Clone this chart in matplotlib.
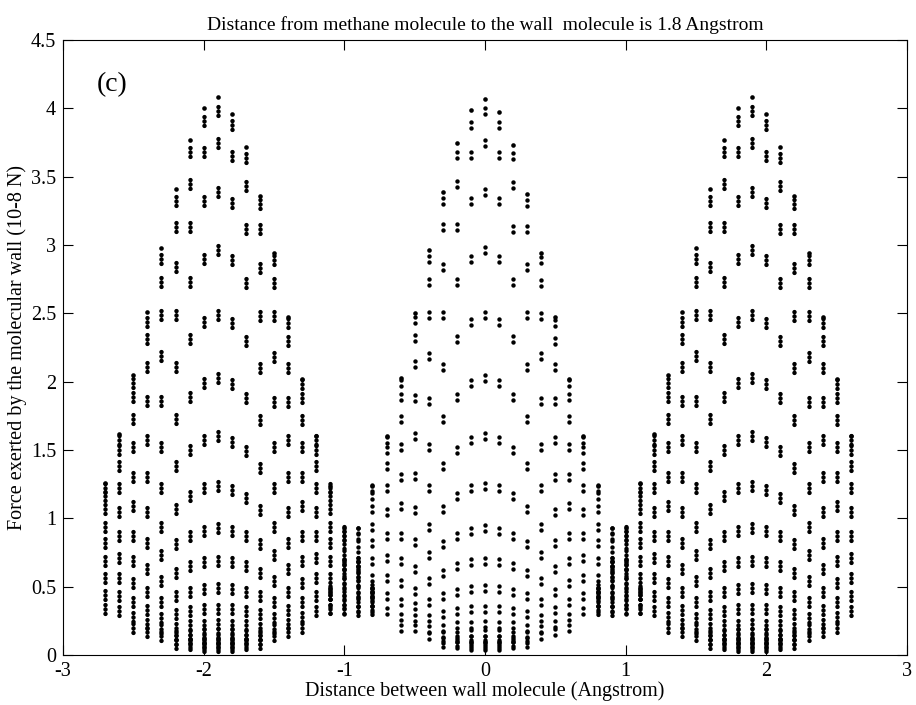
import numpy as np
import matplotlib
matplotlib.use("Agg")
import matplotlib.pyplot as plt
from matplotlib.path import Path

plt.rcParams['font.family'] = ['Liberation Serif', 'DejaVu Serif']
plt.rcParams['axes.unicode_minus'] = False

# ---- data: force (1e-8 N) at each sampled wall position, one list per column ----
# left lattice site (centred near -1.9)
left_x = [-2.7, -2.6, -2.5, -2.4, -2.3, -2.2, -2.1, -2.0, -1.9, -1.8,
          -1.7, -1.6, -1.5, -1.4, -1.3, -1.2, -1.1, -1.0, -0.9, -0.8]
left_force = [
    [1.26, 1.22, 1.16, 1.07, 0.94, 0.82, 0.69, 0.56, 0.44, 0.34],
    [1.62, 1.57, 1.50, 1.38, 1.22, 1.05, 0.87, 0.71, 0.56, 0.43, 0.32],
    [2.05, 1.99, 1.89, 1.73, 1.52, 1.30, 1.09, 0.87, 0.69, 0.53, 0.39, 0.28, 0.20],
    [2.51, 2.44, 2.31, 2.11, 1.86, 1.57, 1.30, 1.05, 0.82, 0.63, 0.46, 0.33, 0.23, 0.17],
    [2.98, 2.90, 2.73, 2.49, 2.19, 1.86, 1.52, 1.22, 0.94, 0.73, 0.54, 0.39, 0.27, 0.19, 0.14],
    [3.41, 3.32, 3.13, 2.84, 2.49, 2.11, 1.73, 1.38, 1.07, 0.81, 0.60, 0.43, 0.30, 0.20, 0.15, 0.11, 0.08],
    [3.77, 3.68, 3.45, 3.13, 2.73, 2.31, 1.89, 1.50, 1.16, 0.87, 0.65, 0.46, 0.32, 0.22, 0.15, 0.12, 0.09, 0.07],
    [4.00, 3.91, 3.68, 3.32, 2.90, 2.44, 1.99, 1.57, 1.22, 0.91, 0.68, 0.48, 0.34, 0.22, 0.16, 0.12, 0.09, 0.07, 0.055],
    [4.08, 3.98, 3.75, 3.39, 2.96, 2.49, 2.03, 1.60, 1.24, 0.93, 0.69, 0.49, 0.34, 0.23, 0.16, 0.12, 0.09, 0.07, 0.055],
    [3.96, 3.88, 3.65, 3.31, 2.89, 2.43, 1.98, 1.56, 1.21, 0.91, 0.68, 0.48, 0.34, 0.22, 0.16, 0.12, 0.09, 0.07, 0.055],
    [3.72, 3.64, 3.43, 3.12, 2.72, 2.30, 1.88, 1.49, 1.15, 0.87, 0.65, 0.46, 0.32, 0.22, 0.15, 0.12, 0.09, 0.07],
    [3.36, 3.30, 3.12, 2.83, 2.48, 2.10, 1.72, 1.37, 1.06, 0.81, 0.60, 0.43, 0.30, 0.20, 0.15, 0.11, 0.08],
    [2.94, 2.89, 2.72, 2.48, 2.18, 1.85, 1.52, 1.22, 0.94, 0.73, 0.54, 0.39, 0.27, 0.19, 0.14],
    [2.47, 2.43, 2.30, 2.10, 1.85, 1.57, 1.30, 1.05, 0.82, 0.63, 0.46, 0.33, 0.23, 0.17],
    [2.02, 1.98, 1.88, 1.72, 1.52, 1.30, 1.09, 0.87, 0.69, 0.53, 0.39, 0.28, 0.20],
    [1.60, 1.57, 1.50, 1.38, 1.22, 1.05, 0.87, 0.71, 0.56, 0.43, 0.32],
    [1.24, 1.22, 1.16, 1.07, 0.94, 0.82, 0.69, 0.56, 0.44, 0.34],
    [0.93, 0.91, 0.87, 0.81, 0.73, 0.63, 0.53, 0.43, 0.34],
    [0.69, 0.68, 0.65, 0.60, 0.54, 0.46, 0.39, 0.32],
    [0.49, 0.48, 0.46, 0.43, 0.39, 0.33],
]

# middle lattice site (centred at 0)
mid_x = [-1.1, -1.0, -0.9, -0.8, -0.7, -0.6, -0.5, -0.4, -0.3, -0.2, -0.1, 0.0,
         0.1, 0.2, 0.3, 0.4, 0.5, 0.6, 0.7, 0.8, 0.9, 1.0, 1.1]
mid_force = [
    [0.49, 0.48, 0.46, 0.43, 0.39, 0.33],
    [0.69, 0.68, 0.65, 0.60, 0.54, 0.46, 0.39, 0.32],
    [0.93, 0.91, 0.87, 0.81, 0.73, 0.63, 0.53, 0.43, 0.34],
    [1.24, 1.22, 1.16, 1.07, 0.94, 0.82, 0.69, 0.56, 0.44, 0.34],
    [1.60, 1.57, 1.50, 1.38, 1.22, 1.05, 0.87, 0.71, 0.56, 0.43, 0.32],
    [2.03, 1.99, 1.89, 1.73, 1.52, 1.30, 1.09, 0.87, 0.69, 0.53, 0.39, 0.28, 0.20],
    [2.50, 2.45, 2.32, 2.13, 1.88, 1.60, 1.31, 1.06, 0.83, 0.63, 0.47, 0.36, 0.27, 0.20],
    [2.96, 2.90, 2.73, 2.49, 2.19, 1.86, 1.52, 1.22, 0.94, 0.73, 0.54, 0.39, 0.27, 0.19, 0.14],
    [3.39, 3.32, 3.13, 2.84, 2.49, 2.11, 1.73, 1.38, 1.07, 0.81, 0.60, 0.43, 0.30, 0.20, 0.15, 0.11, 0.08],
    [3.75, 3.66, 3.45, 3.13, 2.73, 2.31, 1.89, 1.50, 1.16, 0.87, 0.65, 0.46, 0.32, 0.22, 0.15, 0.12, 0.09, 0.07],
    [3.99, 3.88, 3.66, 3.32, 2.90, 2.44, 1.99, 1.57, 1.22, 0.91, 0.68, 0.48, 0.34, 0.22, 0.16, 0.12, 0.09, 0.07, 0.055],
    [4.07, 3.98, 3.75, 3.39, 2.96, 2.49, 2.03, 1.60, 1.24, 0.93, 0.69, 0.49, 0.34, 0.23, 0.16, 0.12, 0.09, 0.07, 0.055],
    [3.97, 3.88, 3.66, 3.32, 2.90, 2.44, 1.99, 1.57, 1.22, 0.91, 0.68, 0.48, 0.34, 0.22, 0.16, 0.12, 0.09, 0.07, 0.055],
    [3.73, 3.65, 3.44, 3.12, 2.73, 2.31, 1.89, 1.50, 1.16, 0.87, 0.65, 0.46, 0.32, 0.22, 0.15, 0.12, 0.09, 0.07],
    [3.37, 3.31, 3.12, 2.84, 2.49, 2.11, 1.73, 1.38, 1.07, 0.81, 0.60, 0.43, 0.30, 0.20, 0.15, 0.11, 0.08],
    [2.94, 2.89, 2.72, 2.48, 2.19, 1.86, 1.52, 1.22, 0.94, 0.73, 0.54, 0.39, 0.27, 0.19, 0.14],
    [2.47, 2.43, 2.30, 2.11, 1.86, 1.57, 1.30, 1.05, 0.82, 0.63, 0.46, 0.33, 0.23, 0.17],
    [2.02, 1.99, 1.89, 1.73, 1.52, 1.30, 1.09, 0.87, 0.69, 0.53, 0.39, 0.28, 0.20],
    [1.60, 1.57, 1.50, 1.38, 1.22, 1.05, 0.87, 0.71, 0.56, 0.43, 0.32],
    [1.24, 1.22, 1.16, 1.07, 0.94, 0.82, 0.69, 0.56, 0.44, 0.34],
    [0.93, 0.91, 0.87, 0.81, 0.73, 0.63, 0.53, 0.43, 0.34],
    [0.69, 0.68, 0.65, 0.60, 0.54, 0.46, 0.39, 0.32],
    [0.49, 0.48, 0.46, 0.43, 0.39, 0.33],
]

# right lattice site (centred near 1.9)
right_x = [0.8, 0.9, 1.0, 1.1, 1.2, 1.3, 1.4, 1.5, 1.6, 1.7,
           1.8, 1.9, 2.0, 2.1, 2.2, 2.3, 2.4, 2.5, 2.6]
right_force = [
    [0.49, 0.48, 0.46, 0.43, 0.39, 0.33],
    [0.69, 0.68, 0.65, 0.60, 0.54, 0.46, 0.39, 0.32],
    [0.93, 0.91, 0.87, 0.81, 0.73, 0.63, 0.53, 0.43, 0.34],
    [1.26, 1.22, 1.16, 1.07, 0.94, 0.82, 0.69, 0.56, 0.44, 0.34],
    [1.62, 1.57, 1.50, 1.38, 1.22, 1.05, 0.87, 0.71, 0.56, 0.43, 0.32],
    [2.05, 1.99, 1.89, 1.73, 1.52, 1.30, 1.09, 0.87, 0.69, 0.53, 0.39, 0.28, 0.20],
    [2.51, 2.44, 2.31, 2.11, 1.86, 1.57, 1.30, 1.05, 0.82, 0.63, 0.46, 0.33, 0.23, 0.17],
    [2.98, 2.90, 2.73, 2.49, 2.19, 1.86, 1.52, 1.22, 0.94, 0.73, 0.54, 0.39, 0.27, 0.19, 0.14],
    [3.41, 3.32, 3.13, 2.84, 2.49, 2.11, 1.73, 1.38, 1.07, 0.81, 0.60, 0.43, 0.30, 0.20, 0.15, 0.11, 0.08],
    [3.77, 3.68, 3.45, 3.13, 2.73, 2.31, 1.89, 1.50, 1.16, 0.87, 0.65, 0.46, 0.32, 0.22, 0.15, 0.12, 0.09, 0.07],
    [4.00, 3.91, 3.68, 3.32, 2.90, 2.44, 1.99, 1.57, 1.22, 0.91, 0.68, 0.48, 0.34, 0.22, 0.16, 0.12, 0.09, 0.07, 0.055],
    [4.08, 3.98, 3.75, 3.39, 2.96, 2.49, 2.03, 1.60, 1.24, 0.93, 0.69, 0.49, 0.34, 0.23, 0.16, 0.12, 0.09, 0.07, 0.055],
    [3.96, 3.88, 3.65, 3.31, 2.89, 2.43, 1.98, 1.56, 1.21, 0.91, 0.68, 0.48, 0.34, 0.22, 0.16, 0.12, 0.09, 0.07, 0.055],
    [3.72, 3.64, 3.43, 3.12, 2.72, 2.30, 1.88, 1.49, 1.15, 0.87, 0.65, 0.46, 0.32, 0.22, 0.15, 0.12, 0.09, 0.07],
    [3.36, 3.30, 3.12, 2.83, 2.48, 2.10, 1.72, 1.37, 1.06, 0.81, 0.60, 0.43, 0.30, 0.20, 0.15, 0.11, 0.08],
    [2.94, 2.89, 2.72, 2.48, 2.18, 1.85, 1.52, 1.22, 0.94, 0.73, 0.54, 0.39, 0.27, 0.19, 0.14],
    [2.47, 2.43, 2.30, 2.10, 1.85, 1.57, 1.30, 1.05, 0.82, 0.63, 0.46, 0.33, 0.23, 0.17],
    [2.02, 1.98, 1.88, 1.72, 1.52, 1.30, 1.09, 0.87, 0.69, 0.53, 0.39, 0.28, 0.20],
    [1.60, 1.57, 1.50, 1.38, 1.22, 1.05, 0.87, 0.71, 0.56, 0.43, 0.32],
]

x_ticks = [-3, -2, -1, 0, 1, 2, 3]
y_ticks = [0, 0.5, 1, 1.5, 2, 2.5, 3, 3.5, 4, 4.5]
y_tick_labels = ['0', '0.5', '1', '1.5', '2', '2.5', '3', '3.5', '4', '4.5']


def dot_stack(count, gap, radius):
    """Marker made of `count` dots stacked vertically."""
    offsets = (np.arange(count) - (count - 1) / 2.0) * gap
    return Path.make_compound_path(*[Path.circle((0.0, o), radius) for o in offsets])


PX = 72.0 / 100.0  # points per pixel at 100 dpi
pair_marker = dot_stack(2, 6.0, 2.2)      # 2 dots, total height ~10 px
triple_marker = dot_stack(3, 4.4, 2.2)    # 3 dots, total height ~13 px
pair_ms = (6.0 + 4.4) * PX
triple_ms = (2 * 4.4 + 4.4) * PX
single_ms = 4.6 * PX

fig = plt.figure(figsize=(9.16, 7.05), dpi=100)
ax = fig.add_axes([63 / 916, 50 / 705, 844 / 916, 615 / 705])


def draw_site(xs, forces, marker, ms):
    for x, vals in zip(xs, forces):
        ax.plot([x], [vals[0]], ls='none', marker='o', ms=single_ms,
                mfc='k', mec='none')
        ax.plot([x] * (len(vals) - 1), vals[1:], ls='none', marker=marker,
                ms=ms, mfc='k', mec='none')


draw_site(left_x, left_force, triple_marker, triple_ms)
draw_site(mid_x, mid_force, pair_marker, pair_ms)
draw_site(right_x, right_force, triple_marker, triple_ms)

ax.set_xlim(-3, 3)
ax.set_ylim(0, 4.5)
ax.set_xticks(x_ticks)
ax.set_xticklabels([str(t) for t in x_ticks])
ax.set_yticks(y_ticks)
ax.set_yticklabels(y_tick_labels)
ax.tick_params(direction='in', top=True, right=True, length=7, width=0.8,
               labelsize=14.5)
ax.tick_params(axis='x', pad=5)
ax.tick_params(axis='y', pad=5)
for s in ax.spines.values():
    s.set_linewidth(0.8)

ax.set_title('Distance from methane molecule to the wall  molecule is 1.8 Angstrom',
             fontsize=14, pad=7)
ax.set_xlabel('Distance between wall molecule (Angstrom)', fontsize=14.5, labelpad=0)
ax.set_ylabel('Force exerted by the molecular wall (10-8 N)', fontsize=14.5, labelpad=3)
ax.text(-2.76, 4.17, '(c)', fontsize=20, ha='left', va='center')

fig.savefig('out.png', dpi=100)
